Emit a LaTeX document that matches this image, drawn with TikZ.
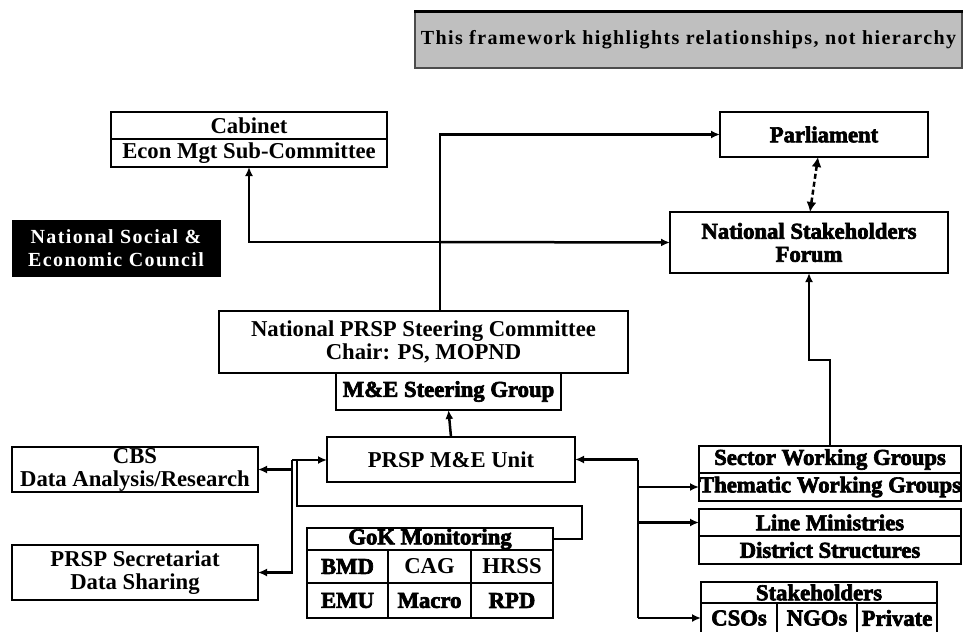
\documentclass[tikz,border=0pt]{standalone}
\usepackage{fontspec}
\setmainfont{Liberation Serif}
\newfontfamily\heavyfamily[BoldFeatures={FakeBold=3}]{Liberation Serif}
\usetikzlibrary{positioning,arrows.meta}
\newcommand{\lblfont}{\bfseries\fontsize{22.7}{23}\selectfont}
\newcommand{\hvyfont}{\heavyfamily\bfseries\fontsize{22.7}{23}\selectfont}
\newcommand{\spcfont}{\bfseries\fontsize{20}{23}\selectfont\addfontfeatures{LetterSpace=7}}
\tikzset{
  box/.style={draw, line width=2.5pt, fill=white, inner sep=0pt, outer sep=0pt, align=center, font=\lblfont},
  hbox/.style={box, font=\hvyfont},
  wire/.style={line width=2.5pt},
  arr/.style={wire, -{Latex[length=9pt,width=8pt]}},
}
\begin{document}
\begin{tikzpicture}[x=1pt,y=-1pt]
\useasboundingbox (0,0) rectangle (965,631);

% note and council
\node [fill=black!25, draw=black!70, line width=1.2pt, minimum width=547, minimum height=56, inner sep=0pt, font=\spcfont](note) at (688.5,40) {This framework highlights relationships, not hierarchy};
\draw [line width=3pt] (note.north west) -- (note.north east);
\node [fill=black, draw=black, text=white, minimum width=208, minimum height=56, inner sep=0pt, align=center, font=\spcfont](nsec) at (116,248) {National Social \&\\Economic Council};

% top boxes
\node [box, minimum width=276, minimum height=27](cabinet) at (249,125.5) {Cabinet};
\node [box, minimum width=276, minimum height=28, below=0pt of cabinet](econ) {Econ Mgt Sub-Committee};
\node [hbox, minimum width=208, minimum height=45](parl) at (824,134.5) {Parliament};
\node [hbox, minimum width=278, minimum height=61](nsf) at (809,242.5) {National Stakeholders\\Forum};

% steering
\node [box, minimum width=409, minimum height=62](steer) at (423.5,342) {National PRSP Steering Committee\\Chair: PS, MOPND};
\node [hbox, minimum width=225, minimum height=37](mesg) at (448.5,391.5) {M\&E Steering Group};
\node [box, minimum width=248, minimum height=45](unit) at (451,459.5) {PRSP M\&E Unit};

% left side
\node [box, minimum width=246, minimum height=45](cbs) at (135,469.5) {CBS\\Data Analysis/Research};
\node [box, minimum width=246, minimum height=55](secr) at (135,572.5) {PRSP Secretariat\\Data Sharing};

% GoK monitoring
\node [hbox, minimum width=246, minimum height=22](gok) at (430,539) {GoK Monitoring};
\node [hbox, minimum width=81, minimum height=33](bmd) at (347.5,566.5) {BMD};
\node [box, minimum width=83, minimum height=33](cag) at (429.5,566.5) {CAG};
\node [box, minimum width=82, minimum height=33](hrss) at (512,566.5) {HRSS};
\node [hbox, minimum width=81, minimum height=35](emu) at (347.5,600.5) {EMU};
\node [hbox, minimum width=83, minimum height=35](macro) at (429.5,600.5) {Macro};
\node [hbox, minimum width=82, minimum height=35](rpd) at (512,600.5) {RPD};

% right side
\node [hbox, minimum width=262, minimum height=27](swg) at (830,459.5) {Sector Working Groups};
\node [hbox, minimum width=262, minimum height=28, below=0pt of swg](twg) {Thematic Working Groups};
\node [hbox, minimum width=262, minimum height=27](lm) at (830,522.5) {Line Ministries};
\node [hbox, minimum width=262, minimum height=28, below=0pt of lm](ds) {District Structures};
\node [hbox, minimum width=236, minimum height=21](stake) at (819,592.5) {Stakeholders};
\node [hbox, minimum width=76, minimum height=30](csos) at (739,618) {CSOs};
\node [hbox, minimum width=80, minimum height=30](ngos) at (817,618) {NGOs};
\node [hbox, minimum width=80, minimum height=30](priv) at (897,618) {Private};

% connectors
\coordinate (hub) at (440,242);
\coordinate (lbus) at (292,460);
\coordinate (rbus) at (638,459.5);
\coordinate (gokturn) at (582,506);

\draw [arr] (steer.north -| hub) |- (parl.west);
\draw [arr] (hub) -- (nsf.west);
\draw [arr] (hub) -| (econ.south);
\draw [wire, dash pattern=on 5pt off 3pt, {Latex[length=10pt,width=10pt]}-{Latex[length=10pt,width=10pt]}] ([xshift=-6pt]parl.south) -- ([xshift=1pt]nsf.north);
\draw [arr] (swg.north) -- ++(0,-86) -| (nsf.south);
\draw [arr] (unit.north) -- (mesg.south);

\draw [arr] (rbus) -- (unit.east);
\draw [wire] (rbus) -- (rbus |- csos.west);
\draw [arr] (rbus |- twg.west) -- (twg.west);
\draw [arr] (rbus |- lm.west) -- (lm.west);
\draw [arr] (rbus |- csos.west) -- (csos.west);

\draw [arr] (lbus) -- (lbus -| unit.west);
\draw [arr] (lbus) |- (secr.east);
\draw [arr] (lbus |- cbs.east) -- (cbs.east);
\draw [wire] (gok.east) -| (gokturn) -| ([xshift=5pt]lbus);
\end{tikzpicture}
\end{document}
